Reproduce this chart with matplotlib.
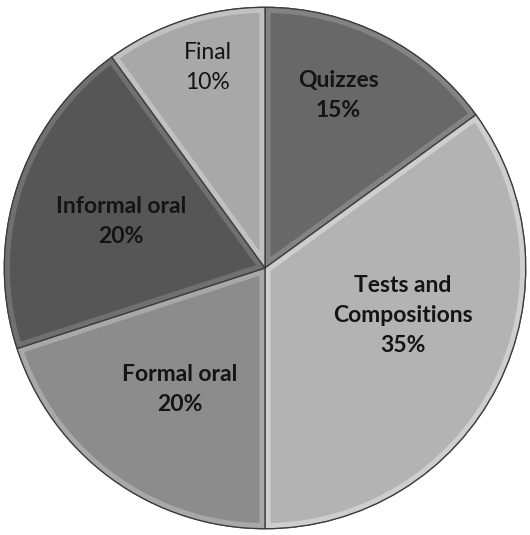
import numpy as np
import matplotlib
matplotlib.use("Agg")
import matplotlib.pyplot as plt
from matplotlib.patches import Wedge

categories = ["Quizzes", "Tests and\nCompositions", "Formal oral", "Informal oral", "Final"]
shares = [15, 35, 20, 20, 10]
colors = ["#686868", "#b3b3b3", "#8c8c8c", "#565656", "#a8a8a8"]
highlights = ["#8a8a8a", "#d6d6d6", "#b0b0b0", "#777777", "#c8c8c8"]
bold = [True, True, True, True, False]
# label placement: radius (fraction of pie) and angle nudge (deg)
label_r = [0.72, 0.56, 0.57, 0.58, 0.80]
label_shift = [4, 8, 1, 0, -2]

plt.rcParams["font.family"] = ["Lato", "DejaVu Sans"]

fig = plt.figure(figsize=(5.30, 5.35), dpi=100)
ax = fig.add_axes([3 / 530, 5 / 535, 524 / 530, 524 / 535])

wedges, _ = ax.pie(shares, colors=colors, startangle=90, counterclock=False, radius=1,
                   wedgeprops=dict(edgecolor="#3c3c3c", linewidth=0.9))
ax.set_xlim(-1.005, 1.005)
ax.set_ylim(-1.005, 1.005)
ax.set_aspect("equal")
ax.axis("off")

for w, hl in zip(wedges, highlights):
    ring = Wedge(w.center, w.r, w.theta1, w.theta2, facecolor="none",
                 edgecolor=hl, linewidth=8, alpha=0.8)
    ring.set_clip_path(w)
    ax.add_patch(ring)
    edge = Wedge(w.center, w.r, w.theta1, w.theta2, facecolor="none",
                 edgecolor="#3c3c3c", linewidth=0.9)
    ax.add_patch(edge)

for w, name, pct, r, sh, b in zip(wedges, categories, shares, label_r, label_shift, bold):
    ang = np.deg2rad((w.theta1 + w.theta2) / 2 + sh)
    ax.text(r * np.cos(ang), r * np.sin(ang), f"{name}\n{pct}%", ha="center", va="center",
            fontsize=16.5, fontweight="bold" if b else "normal", color="#141414",
            linespacing=1.55)

fig.savefig("out.png", dpi=100)
